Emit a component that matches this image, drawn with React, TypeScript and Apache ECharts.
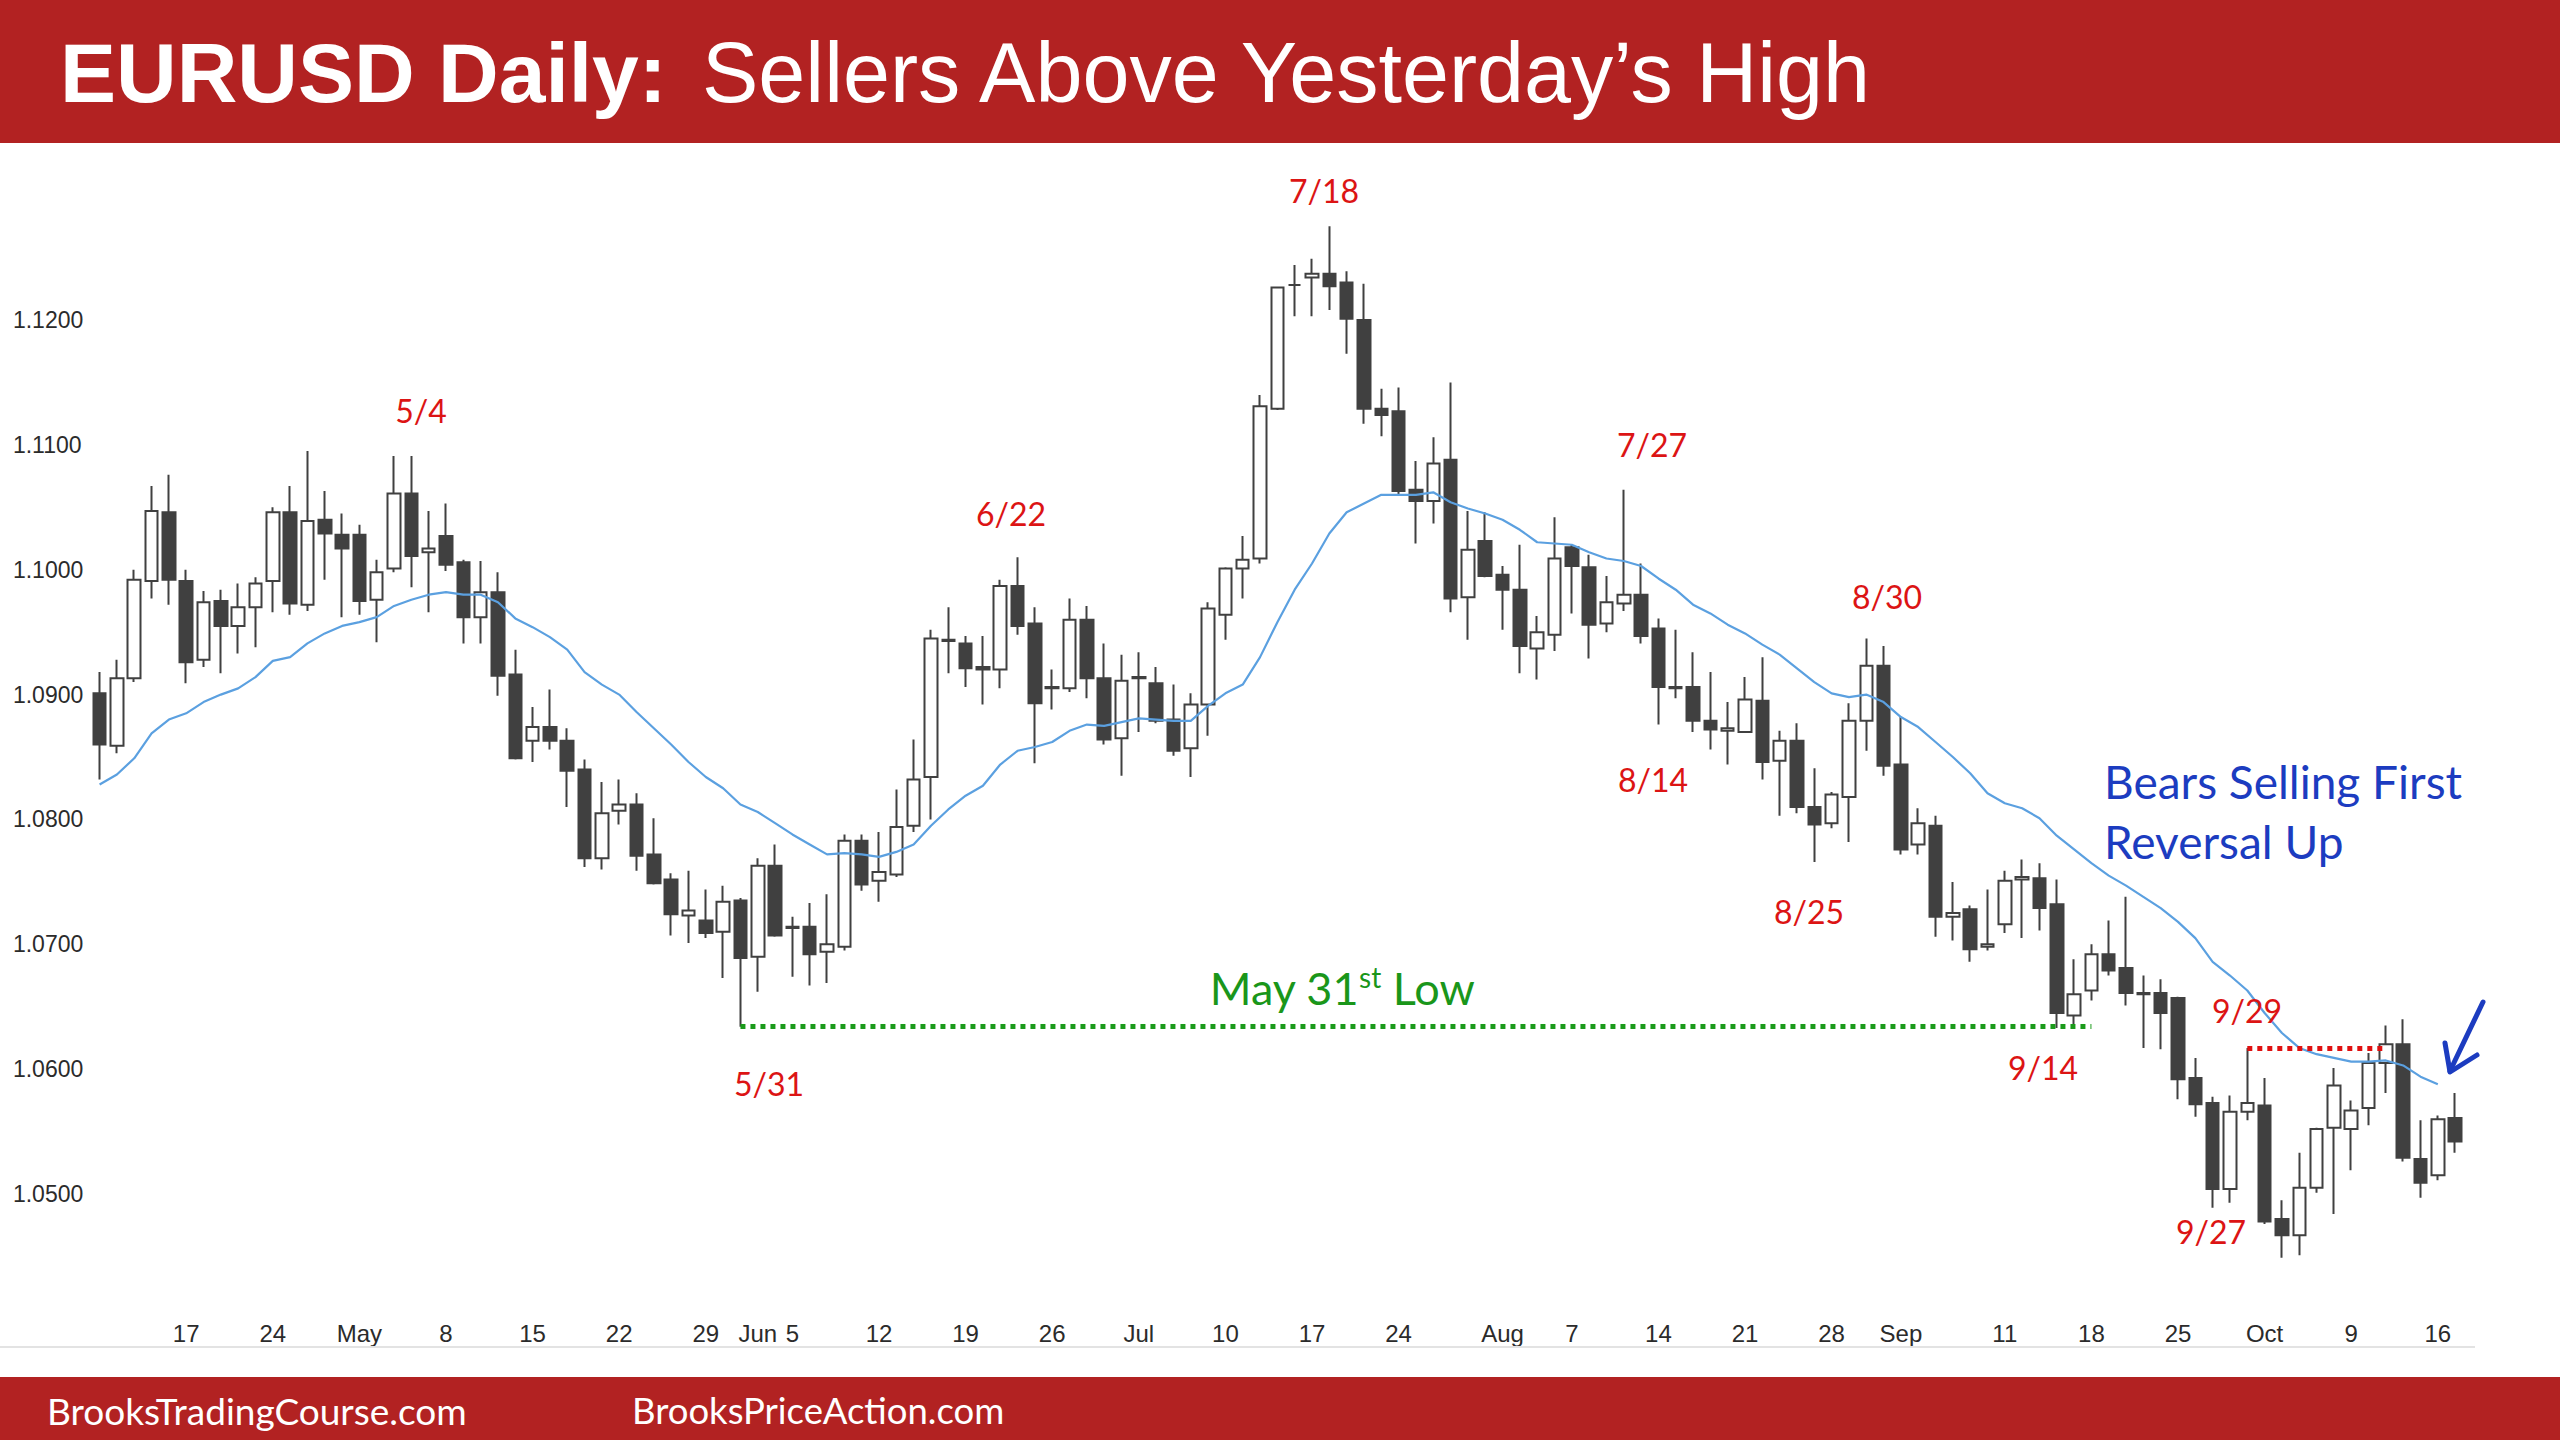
import React, { useEffect, useRef } from "react";
import * as echarts from "echarts";

// ---------- data ----------
const START_DAY = "2023-04-10";
const END_DAY = "2023-10-17";

function buildTradingDays(start: string, end: string): string[] {
  const out: string[] = [];
  const d = new Date(start + "T00:00:00Z");
  const e = new Date(end + "T00:00:00Z");
  while (d <= e) {
    const w = d.getUTCDay();
    if (w !== 0 && w !== 6) out.push(d.toISOString().slice(0, 10));
    d.setUTCDate(d.getUTCDate() + 1);
  }
  return out;
}
const categories = buildTradingDays(START_DAY, END_DAY);

const tickLabels: [string, string][] = [
  ["2023-04-17", "17"], ["2023-04-24", "24"], ["2023-05-01", "May"], ["2023-05-08", "8"],
  ["2023-05-15", "15"], ["2023-05-22", "22"], ["2023-05-29", "29"], ["2023-06-01", "Jun"],
  ["2023-06-05", "5"], ["2023-06-12", "12"], ["2023-06-19", "19"], ["2023-06-26", "26"],
  ["2023-07-03", "Jul"], ["2023-07-10", "10"], ["2023-07-17", "17"], ["2023-07-24", "24"],
  ["2023-08-01", "Aug"], ["2023-08-07", "7"], ["2023-08-14", "14"], ["2023-08-21", "21"],
  ["2023-08-28", "28"], ["2023-09-01", "Sep"], ["2023-09-11", "11"], ["2023-09-18", "18"],
  ["2023-09-25", "25"], ["2023-10-02", "Oct"], ["2023-10-09", "9"], ["2023-10-16", "16"],
];

const yTickValues = [1.05, 1.06, 1.07, 1.08, 1.09, 1.1, 1.11, 1.12];

// [open, high, low, close]
const ohlc: number[][] = [
  [1.0901, 1.0918, 1.0832, 1.0860], [1.0859, 1.0928, 1.0853, 1.0913], [1.0913, 1.1000, 1.0910, 1.0992],
  [1.0991, 1.1067, 1.0977, 1.1047], [1.1046, 1.1076, 1.0972, 1.0992], [1.0991, 1.1000, 1.0909, 1.0926],
  [1.0928, 1.0983, 1.0922, 1.0974], [1.0975, 1.0984, 1.0917, 1.0955], [1.0955, 1.0989, 1.0933, 1.0970],
  [1.0970, 1.0994, 1.0938, 1.0989], [1.0991, 1.1050, 1.0966, 1.1046], [1.1046, 1.1067, 1.0964, 1.0973],
  [1.0972, 1.1095, 1.0967, 1.1039], [1.1040, 1.1063, 1.0992, 1.1029], [1.1028, 1.1045, 1.0962, 1.1017],
  [1.1028, 1.1036, 1.0964, 1.0975], [1.0976, 1.1008, 1.0942, 1.0998], [1.1001, 1.1091, 1.0998, 1.1061],
  [1.1061, 1.1091, 1.0986, 1.1011], [1.1014, 1.1047, 1.0966, 1.1017], [1.1027, 1.1053, 1.0999, 1.1004],
  [1.1006, 1.1008, 1.0941, 1.0962], [1.0962, 1.1007, 1.0941, 1.0982], [1.0982, 1.0998, 1.0899, 1.0915],
  [1.0916, 1.0936, 1.0848, 1.0849], [1.0863, 1.0890, 1.0846, 1.0874], [1.0874, 1.0904, 1.0856, 1.0863],
  [1.0863, 1.0873, 1.0810, 1.0839], [1.0840, 1.0848, 1.0762, 1.0769], [1.0769, 1.0830, 1.0760, 1.0805],
  [1.0807, 1.0832, 1.0796, 1.0812], [1.0812, 1.0821, 1.0759, 1.0771], [1.0772, 1.0801, 1.0748, 1.0749],
  [1.0752, 1.0757, 1.0707, 1.0724], [1.0723, 1.0759, 1.0701, 1.0727], [1.0719, 1.0744, 1.0705, 1.0709],
  [1.0710, 1.0747, 1.0673, 1.0734], [1.0735, 1.0737, 1.0634, 1.0689], [1.0690, 1.0769, 1.0662, 1.0763],
  [1.0763, 1.0780, 1.0706, 1.0707], [1.0714, 1.0722, 1.0674, 1.0713], [1.0714, 1.0733, 1.0667, 1.0692],
  [1.0694, 1.0740, 1.0669, 1.0700], [1.0698, 1.0788, 1.0695, 1.0783], [1.0783, 1.0788, 1.0743, 1.0748],
  [1.0751, 1.0790, 1.0734, 1.0758], [1.0756, 1.0824, 1.0754, 1.0794], [1.0795, 1.0864, 1.0790, 1.0832],
  [1.0834, 1.0952, 1.0800, 1.0945], [1.0944, 1.0970, 1.0917, 1.0943], [1.0941, 1.0947, 1.0906, 1.0921],
  [1.0922, 1.0947, 1.0892, 1.0920], [1.0920, 1.0992, 1.0905, 1.0987], [1.0987, 1.1010, 1.0948, 1.0955],
  [1.0957, 1.0970, 1.0845, 1.0893], [1.0906, 1.0920, 1.0888, 1.0905], [1.0905, 1.0977, 1.0902, 1.0960],
  [1.0960, 1.0971, 1.0897, 1.0913], [1.0913, 1.0941, 1.0860, 1.0864], [1.0865, 1.0932, 1.0835, 1.0911],
  [1.0913, 1.0934, 1.0870, 1.0914], [1.0909, 1.0922, 1.0877, 1.0879], [1.0880, 1.0908, 1.0851, 1.0855],
  [1.0857, 1.0901, 1.0834, 1.0892], [1.0892, 1.0974, 1.0867, 1.0969], [1.0964, 1.1002, 1.0944, 1.1001],
  [1.1001, 1.1027, 1.0977, 1.1008], [1.1009, 1.1140, 1.1005, 1.1131], [1.1129, 1.1226, 1.1128, 1.1226],
  [1.1228, 1.1244, 1.1203, 1.1228], [1.1234, 1.1249, 1.1203, 1.1237], [1.1237, 1.1275, 1.1208, 1.1227],
  [1.1230, 1.1239, 1.1173, 1.1201], [1.1200, 1.1229, 1.1117, 1.1129], [1.1129, 1.1145, 1.1107, 1.1124],
  [1.1127, 1.1146, 1.1060, 1.1063], [1.1064, 1.1087, 1.1021, 1.1055], [1.1055, 1.1106, 1.1037, 1.1085],
  [1.1088, 1.1150, 1.0966, 1.0977], [1.0978, 1.1047, 1.0944, 1.1016], [1.1023, 1.1046, 1.0994, 1.0995],
  [1.0996, 1.1003, 1.0952, 1.0984], [1.0984, 1.1020, 1.0917, 1.0939], [1.0937, 1.0963, 1.0912, 1.0950],
  [1.0948, 1.1042, 1.0935, 1.1009], [1.1018, 1.1020, 1.0965, 1.1003], [1.1002, 1.1012, 1.0929, 1.0956],
  [1.0957, 1.0995, 1.0950, 1.0974], [1.0973, 1.1064, 1.0967, 1.0980], [1.0980, 1.1005, 1.0941, 1.0947],
  [1.0953, 1.0961, 1.0876, 1.0906], [1.0906, 1.0952, 1.0897, 1.0905], [1.0906, 1.0934, 1.0870, 1.0879],
  [1.0879, 1.0918, 1.0856, 1.0872], [1.0871, 1.0894, 1.0844, 1.0873], [1.0870, 1.0914, 1.0870, 1.0896],
  [1.0895, 1.0930, 1.0832, 1.0846], [1.0847, 1.0871, 1.0803, 1.0863], [1.0863, 1.0877, 1.0805, 1.0810],
  [1.0810, 1.0841, 1.0766, 1.0796], [1.0797, 1.0822, 1.0793, 1.0820], [1.0818, 1.0893, 1.0782, 1.0879],
  [1.0879, 1.0945, 1.0855, 1.0923], [1.0923, 1.0939, 1.0835, 1.0843], [1.0844, 1.0882, 1.0772, 1.0776],
  [1.0780, 1.0809, 1.0772, 1.0797], [1.0795, 1.0803, 1.0706, 1.0722], [1.0722, 1.0750, 1.0703, 1.0725],
  [1.0728, 1.0731, 1.0686, 1.0696], [1.0698, 1.0744, 1.0695, 1.0700], [1.0716, 1.0759, 1.0709, 1.0751],
  [1.0752, 1.0768, 1.0705, 1.0754], [1.0753, 1.0765, 1.0711, 1.0729], [1.0732, 1.0752, 1.0633, 1.0645],
  [1.0643, 1.0688, 1.0634, 1.0660], [1.0663, 1.0700, 1.0655, 1.0692], [1.0692, 1.0719, 1.0675, 1.0679],
  [1.0681, 1.0738, 1.0651, 1.0661], [1.0661, 1.0675, 1.0617, 1.0660], [1.0661, 1.0672, 1.0616, 1.0645],
  [1.0657, 1.0658, 1.0576, 1.0592], [1.0593, 1.0609, 1.0562, 1.0572], [1.0573, 1.0578, 1.0489, 1.0504],
  [1.0504, 1.0579, 1.0493, 1.0566], [1.0566, 1.0617, 1.0559, 1.0573], [1.0571, 1.0593, 1.0476, 1.0478],
  [1.0480, 1.0495, 1.0449, 1.0467], [1.0467, 1.0533, 1.0451, 1.0505], [1.0505, 1.0553, 1.0501, 1.0552],
  [1.0553, 1.0601, 1.0484, 1.0587], [1.0552, 1.0575, 1.0519, 1.0567], [1.0569, 1.0613, 1.0555, 1.0605],
  [1.0605, 1.0635, 1.0581, 1.0620], [1.0620, 1.0640, 1.0526, 1.0529], [1.0528, 1.0559, 1.0497, 1.0509],
  [1.0515, 1.0563, 1.0511, 1.0560], [1.0561, 1.0581, 1.0533, 1.0542],
];

// moving average
const movingAverage: (number | null)[] = [
  1.0828, 1.0836, 1.0849, 1.0869, 1.0880, 1.0885, 1.0894, 1.0900, 1.0905, 1.0914,
  1.0927, 1.0930, 1.0941, 1.0949, 1.0955, 1.0958, 1.0962, 1.0971, 1.0976, 1.0980,
  1.0982, 1.0980, 1.0980, 1.0974, 1.0961, 1.0954, 1.0946, 1.0936, 1.0918, 1.0908,
  1.0900, 1.0886, 1.0873, 1.0860, 1.0846, 1.0834, 1.0825, 1.0812, 1.0806, 1.0797,
  1.0788, 1.0780, 1.0772, 1.0773, 1.0772, 1.0770, 1.0774, 1.0780, 1.0795, 1.0808,
  1.0819, 1.0827, 1.0844, 1.0855, 1.0858, 1.0862, 1.0871, 1.0876, 1.0875, 1.0878,
  1.0881, 1.0880, 1.0879, 1.0879, 1.0891, 1.0901, 1.0908, 1.0930, 1.0958, 1.0984,
  1.1005, 1.1029, 1.1046, 1.1053, 1.1060, 1.1060, 1.1060, 1.1062, 1.1054, 1.1049,
  1.1045, 1.1040, 1.1032, 1.1022, 1.1021, 1.1020, 1.1014, 1.1009, 1.1007, 1.1003,
  1.0993, 1.0984, 1.0972, 1.0965, 1.0956, 1.0949, 1.0940, 1.0932, 1.0921, 1.0910,
  1.0901, 1.0898, 1.0900, 1.0894, 1.0882, 1.0874, 1.0862, 1.0850, 1.0837, 1.0821,
  1.0813, 1.0809, 1.0801, 1.0787, 1.0776, 1.0765, 1.0755, 1.0747, 1.0738, 1.0729,
  1.0718, 1.0705, 1.0686, 1.0675, 1.0663, 1.0645, 1.0629, 1.0617, 1.0612, 1.0609,
  1.0606, 1.0606, 1.0607, 1.0603, 1.0594, 1.0588, null,
];

const dateNotes: [string, number, number][] = [
  ["5/4", 421, 410], ["6/22", 1011, 513], ["7/18", 1324, 190], ["7/27", 1652, 444],
  ["8/30", 1887, 596], ["8/14", 1653, 779], ["8/25", 1809, 911], ["5/31", 769, 1083],
  ["9/14", 2043, 1067], ["9/29", 2247, 1010], ["9/27", 2211, 1231],
];

// ---------- chart ----------
const RED = "#b22222";
const CANDLE = "#404040";
const NOTE_FONT = "Lato, 'Open Sans', sans-serif";
const AXIS_FONT = "'Liberation Sans Narrow', 'Arial Narrow', 'Liberation Sans', sans-serif";
const TITLE_FONT = "'Liberation Sans', Arial, sans-serif";

export default function App() {
  const ref = useRef<HTMLDivElement>(null);

  useEffect(() => {
    if (!ref.current) return;
    const chart = echarts.init(ref.current, undefined, { renderer: "svg" });
    const labelMap: Record<string, string> = {};
    tickLabels.forEach(([d, l]) => (labelMap[d] = l));
    const candleData = ohlc.map(([o, h, l, c]) => [o, c, l, h]);
    const may31 = categories.indexOf("2023-05-31");
    const sep18 = categories.indexOf("2023-09-18");
    const sep29 = categories.indexOf("2023-09-29");
    const oct11 = categories.indexOf("2023-10-11");
    const may31Low = ohlc[may31][2];
    const sep29High = ohlc[sep29][1];

    const graphics: any[] = [
      { type: "rect", shape: { x: 0, y: 0, width: 2560, height: 143 }, style: { fill: RED }, z: 10 },
      {
        type: "text", x: 60, y: 73, z: 11,
        style: { text: "EURUSD Daily:", fill: "#fff", fontSize: 84, fontWeight: "bold", fontFamily: TITLE_FONT, verticalAlign: "middle" },
      },
      {
        type: "text", x: 702, y: 73, z: 11,
        style: { text: "Sellers Above Yesterday\u2019s High", fill: "#fff", fontSize: 84.5, fontFamily: TITLE_FONT, verticalAlign: "middle" },
      },
      { type: "rect", shape: { x: 0, y: 1377, width: 2560, height: 63 }, style: { fill: RED }, z: 10 },
      {
        type: "text", x: 47, y: 1410, z: 11,
        style: { text: "BrooksTradingCourse.com", fill: "#fff", fontSize: 37, fontFamily: NOTE_FONT, verticalAlign: "middle" },
      },
      {
        type: "text", x: 632, y: 1410, z: 11,
        style: { text: "BrooksPriceAction.com", fill: "#fff", fontSize: 36.5, fontFamily: NOTE_FONT, verticalAlign: "middle" },
      },
      { type: "rect", shape: { x: 0, y: 1346, width: 2475, height: 2 }, style: { fill: "#e3e3e3" }, z: 1 },
      ...dateNotes.map(([t, x, y]) => ({
        type: "text", x, y, z: 12,
        style: { text: t, fill: "#dc1414", fontSize: 32, fontFamily: NOTE_FONT, align: "center", verticalAlign: "middle" },
      })),
      {
        type: "text", x: 1342, y: 988, z: 12,
        style: {
          text: "{a|May 31}{s|st}{a| Low}",
          align: "center", verticalAlign: "middle",
          rich: {
            a: { fontSize: 45, fill: "#1a961a", fontFamily: NOTE_FONT, lineHeight: 50 },
            s: { fontSize: 28, fill: "#1a961a", fontFamily: NOTE_FONT, verticalAlign: "top", lineHeight: 50, padding: [0, 0, 22, 0] },
          },
        },
      },
      {
        type: "text", x: 2104, y: 781, z: 12,
        style: { text: "Bears Selling First", fill: "#1c3cc0", fontSize: 46, fontFamily: NOTE_FONT, verticalAlign: "middle" },
      },
      {
        type: "text", x: 2104, y: 841, z: 12,
        style: { text: "Reversal Up", fill: "#1c3cc0", fontSize: 46, fontFamily: NOTE_FONT, verticalAlign: "middle" },
      },
      {
        type: "polyline", z: 12,
        shape: { points: [[2483, 1002], [2450, 1071]] },
        style: { stroke: "#1c3cc0", lineWidth: 5, lineCap: "round", fill: null },
      },
      {
        type: "polyline", z: 12,
        shape: { points: [[2445, 1043], [2450, 1072], [2477, 1055]] },
        style: { stroke: "#1c3cc0", lineWidth: 5, lineCap: "round", lineJoin: "round", fill: null },
      },
    ];

    chart.setOption({
      animation: false,
      backgroundColor: "#ffffff",
      grid: { left: 90.94, right: 96.2, top: 195.14, bottom: 93 },
      xAxis: {
        type: "category",
        data: categories,
        boundaryGap: true,
        axisLine: { show: false },
        axisTick: { show: false },
        splitLine: { show: false },
        axisLabel: {
          inside: true,
          margin: 2,
          interval: (_i: number, v: string) => !!labelMap[v],
          formatter: (v: string) => labelMap[v] || "",
          color: "#2b2b2b",
          fontSize: 24,
          fontFamily: AXIS_FONT,
        },
      },
      yAxis: {
        type: "value",
        min: 1.03775,
        max: 1.13,
        scale: true,
        axisLine: { show: false },
        axisTick: { show: false },
        splitLine: { show: false },
        axisLabel: {
          customValues: yTickValues,
          formatter: (v: number) => v.toFixed(4),
          align: "left",
          margin: 78,
          color: "#2b2b2b",
          fontSize: 23,
          fontFamily: AXIS_FONT,
        },
      },
      series: [
        {
          type: "candlestick",
          data: candleData,
          barWidth: 13,
          itemStyle: {
            color: "#ffffff",
            color0: CANDLE,
            borderColor: CANDLE,
            borderColor0: CANDLE,
            borderWidth: 2,
          },
          markLine: {
            silent: true,
            symbol: ["none", "none"],
            label: { show: false },
            lineStyle: { width: 5, type: [5, 5], opacity: 1 },
            emphasis: { disabled: true },
            data: [
              [
                { coord: [may31, may31Low], lineStyle: { color: "#1a9a1a", width: 5, type: [5, 5] } },
                { coord: [sep18, may31Low] },
              ],
              [
                { coord: [sep29, sep29High], lineStyle: { color: "#e01010", width: 5, type: [5, 5] } },
                { coord: [oct11, sep29High] },
              ],
            ],
          },
        },
        {
          type: "line",
          data: movingAverage,
          showSymbol: false,
          symbol: "none",
          smooth: false,
          lineStyle: { color: "#5ba0e0", width: 2.2 },
          z: 3,
        },
      ],
      graphic: graphics,
    });
    return () => chart.dispose();
  }, []);

  return (
    <div
      ref={ref}
      style={{ position: "absolute", left: 0, top: 0, width: 2560, height: 1440, background: "#fff" }}
    />
  );
}
